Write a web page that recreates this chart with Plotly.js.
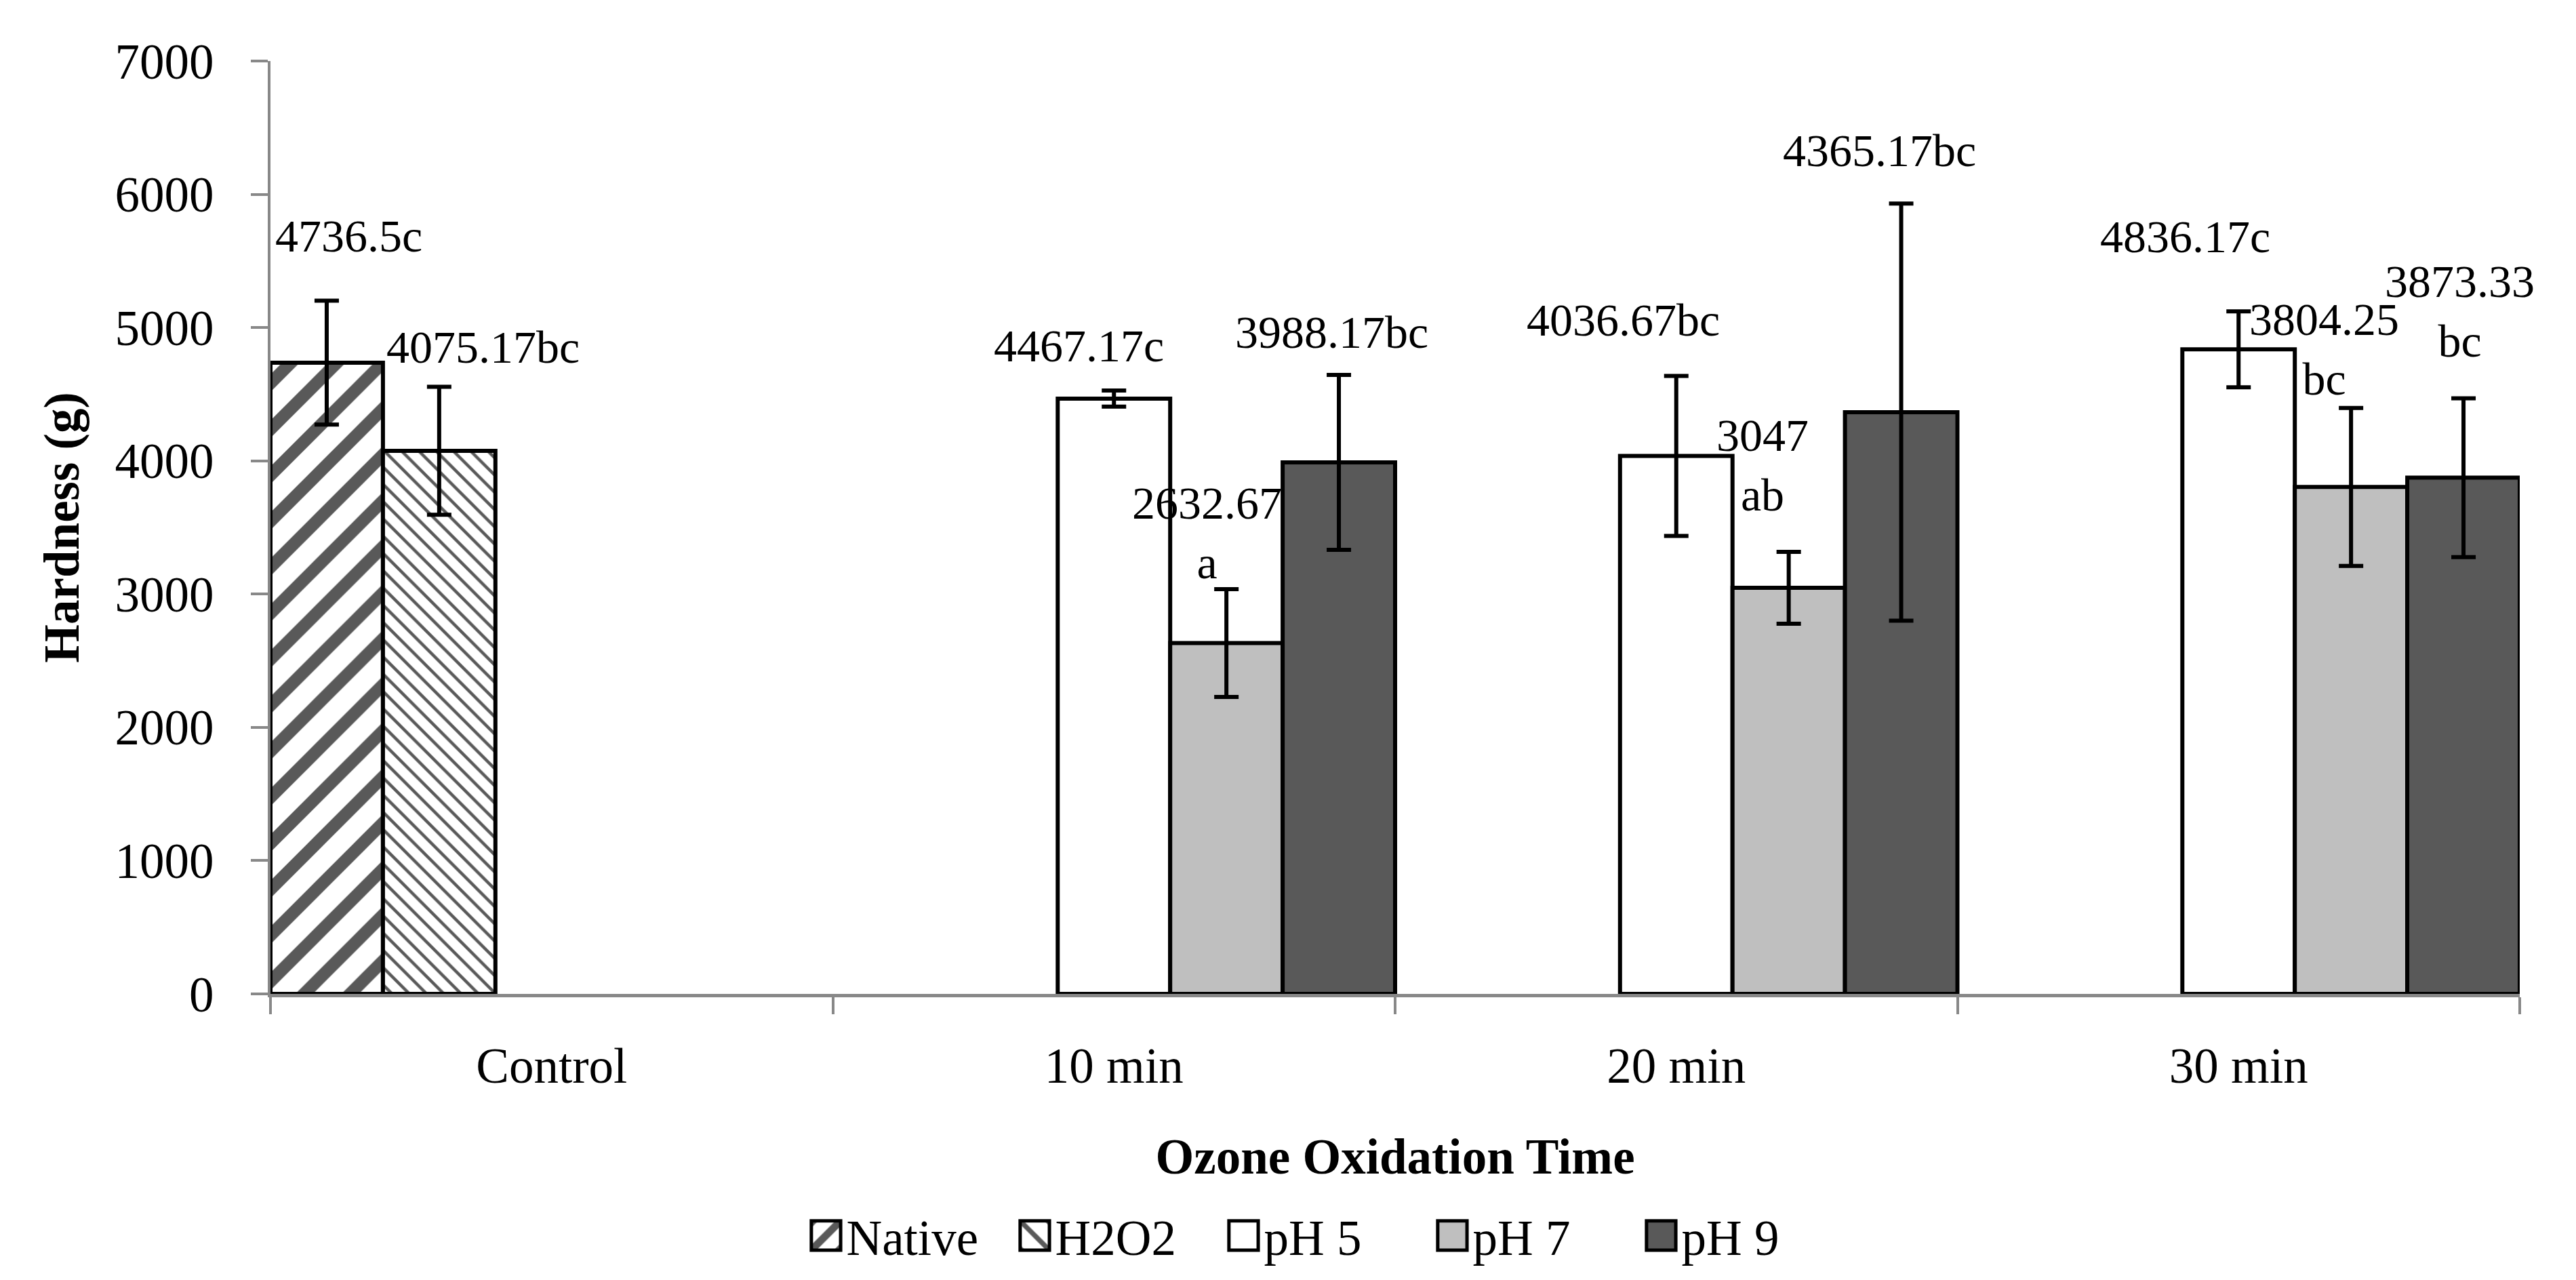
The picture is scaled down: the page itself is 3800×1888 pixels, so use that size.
<!DOCTYPE html>
<html>
<head>
<meta charset="utf-8">
<script src="https://cdn.plot.ly/plotly-3.0.1.min.js"></script>
<style>
  html, body { margin: 0; padding: 0; background: #fff; }
  #chart { width: 3800px; height: 1888px; }
</style>
</head>
<body>
<div id="chart"></div>
<script>
// categories on the x axis
const categories = ['Control', '10 min', '20 min', '30 min'];

// mean hardness (g) per series, null where the series has no bar
const nativeVals = [4736.5, null, null, null];
const h2o2Vals   = [4075.17, null, null, null];
const ph5Vals    = [null, 4467.17, 4036.67, 4836.17];
const ph7Vals    = [null, 2632.67, 3047, 3804.25];
const ph9Vals    = [null, 3988.17, 4365.17, 3873.33];

// standard deviations (error bars)
const nativeErr = [465, null, null, null];
const h2o2Err   = [480, null, null, null];
const ph5Err    = [null, 60, 600, 285];
const ph7Err    = [null, 405, 270, 593];
const ph9Err    = [null, 656, 1565, 596];

// significance letters
const nativeLet = ['c', '', '', ''];
const h2o2Let   = ['bc', '', '', ''];
const ph5Let    = ['', 'c', 'bc', 'c'];
const ph7Let    = ['', 'a', 'ab', 'bc'];
const ph9Let    = ['', 'bc', 'bc', 'bc'];

const FONT = 'Liberation Serif, Palatino Linotype, serif';

const series = [
    {name: 'Native', y: nativeVals, err: nativeErr, lets: nativeLet, color: '#ffffff', pattern: {shape: '/', fgcolor: '#595959', bgcolor: '#ffffff', size: 48, solidity: 0.38}},
    {name: 'H2O2',   y: h2o2Vals,   err: h2o2Err,   lets: h2o2Let,   color: '#ffffff', pattern: {shape: '\\', fgcolor: '#595959', bgcolor: '#ffffff', size: 18, solidity: 0.25}},
    {name: 'pH 5',   y: ph5Vals,    err: ph5Err,    lets: ph5Let,    color: '#ffffff'},
    {name: 'pH 7',   y: ph7Vals,    err: ph7Err,    lets: ph7Let,    color: '#bfbfbf'},
    {name: 'pH 9',   y: ph9Vals,    err: ph9Err,    lets: ph9Let,    color: '#595959'}
];

// where each data label sits relative to its bar top: [xshift px, yshift px, line break]
const labelPlace = {
    'Native': [[33, 187, false]],
    'H2O2':   [[65, 153, false]],
    'pH 5':   [null, [-52, 78, false], [-78, 201, false], [-79, 166, false]],
    'pH 7':   [null, [-29, 162, true], [-39, 181, true], [-40, 203, true]],
    'pH 9':   [null, [-11, 192, false], [-32, 386, false], [-6, 246, true]]
};

let traces = [];
let annotations = [];

for (let k = 0; k < series.length; k++) {
    const s = series[k];
    let marker = {color: s.color, line: {color: '#000000', width: 6}};
    if (s.pattern) marker.pattern = s.pattern;
    traces.push({
        x: categories,
        y: s.y,
        name: s.name,
        type: 'bar',
        marker: marker,
        error_y: {type: 'data', array: s.err, visible: true, color: '#000000', thickness: 6, width: 18},
        hoverinfo: 'skip'
    });

    for (let i = 0; i < categories.length; i++) {
        if (s.y[i] === null) continue;
        const place = labelPlace[s.name][i];
        const sep = place[2] ? '<br>' : '';
        annotations.push({
            // centre of the k-th of 5 grouped slots in category i
            x: i - 0.4 + 0.2 * k,
            y: s.y[i],
            xref: 'x',
            yref: 'y',
            text: s.y[i] + sep + s.lets[i],
            showarrow: false,
            xanchor: 'center',
            yanchor: 'middle',
            xshift: place[0],
            yshift: place[1],
            font: {family: FONT, size: 68, color: '#000000'}
        });
    }
}

const layout = {
    width: 3800,
    height: 1888,
    margin: {l: 399, r: 83, t: 90, b: 416},
    paper_bgcolor: '#ffffff',
    plot_bgcolor: '#ffffff',
    font: {family: FONT, size: 73, color: '#000000'},
    barmode: 'group',
    bargap: 0,
    bargroupgap: 0,
    showlegend: true,
    legend: {
        orientation: 'h',
        x: 0.47,
        xanchor: 'center',
        y: -0.259,
        yanchor: 'middle',
        itemwidth: 50,
        entrywidth: 243,
        font: {family: FONT, size: 73, color: '#000000'},
        itemclick: false
    },
    xaxis: {
        type: 'category',
        range: [-0.5, 3.5],
        tickson: 'boundaries',
        ticks: 'outside',
        ticklen: 25,
        tickwidth: 4,
        tickcolor: '#888888',
        showline: true,
        linecolor: '#888888',
        linewidth: 5,
        showgrid: false,
        zeroline: false,
        ticklabelstandoff: 38,
        tickfont: {family: FONT, size: 73, color: '#000000'},
        title: {text: '<b>Ozone Oxidation Time</b>', standoff: 70, font: {family: FONT, size: 73, color: '#000000'}},
        automargin: false
    },
    yaxis: {
        range: [0, 7000],
        dtick: 1000,
        ticks: 'outside',
        ticklen: 25,
        tickwidth: 4,
        tickcolor: '#888888',
        showline: true,
        linecolor: '#888888',
        linewidth: 4,
        showgrid: false,
        zeroline: false,
        ticklabelstandoff: 40,
        tickfont: {family: FONT, size: 73, color: '#000000'},
        title: {text: '<b>Hardness (g)</b>', standoff: 30, font: {family: FONT, size: 73, color: '#000000'}},
        automargin: false
    },
    annotations: annotations
};

Plotly.newPlot('chart', traces, layout, {staticPlot: true}).then(function () {
    // bigger legend swatches, like the original
    document.querySelectorAll('.legend .legendpoints path').forEach(function (p) {
        const t = p.getAttribute('transform') || '';
        p.setAttribute('transform', t + ' scale(3.6)');
        p.style.strokeWidth = '1.4px';
    });
});
</script>
</body>
</html>
